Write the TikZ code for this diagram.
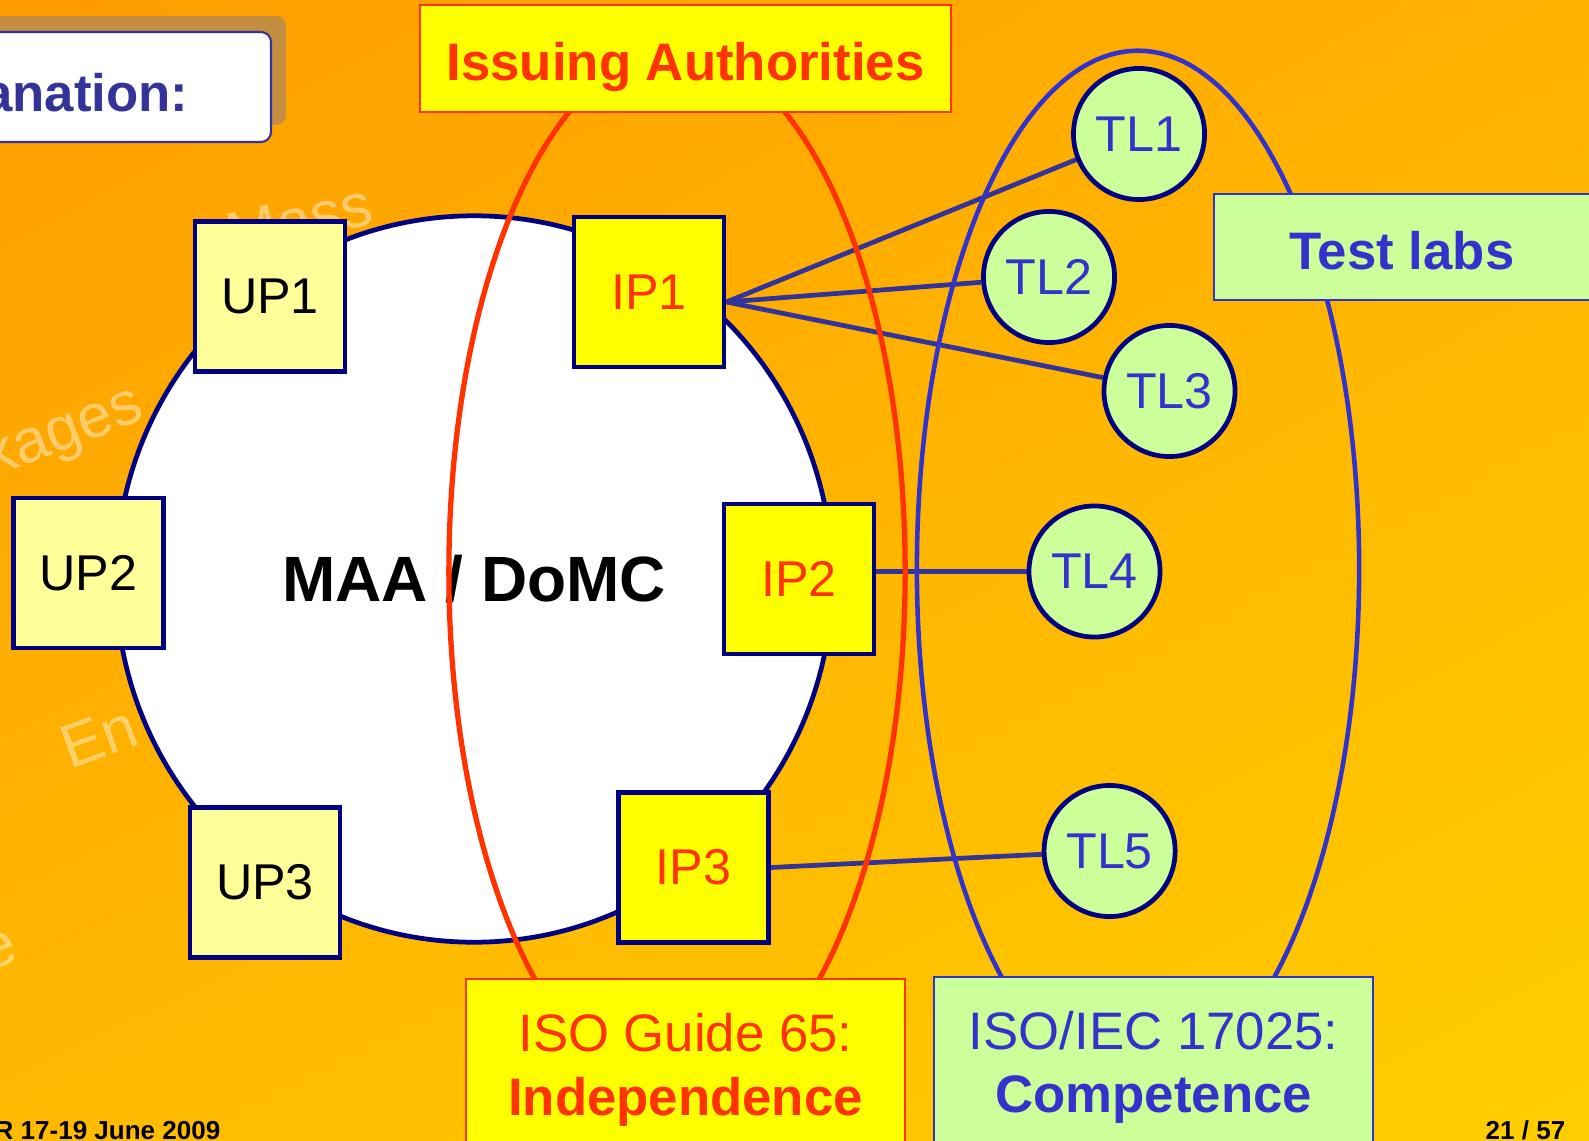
\documentclass[tikz,border=0pt]{standalone}
\usepackage{fontspec}
\setmainfont{Liberation Sans}
\usetikzlibrary{shadings,shapes.geometric}
\definecolor{navy}{RGB}{0,0,128}
\definecolor{boxblue}{RGB}{51,51,153}
\definecolor{tlblue}{RGB}{51,51,204}
\definecolor{ired}{RGB}{255,51,0}
\definecolor{iyellow}{RGB}{255,255,0}
\definecolor{upyellow}{RGB}{255,255,153}
\definecolor{tlgreen}{RGB}{204,255,153}
\definecolor{shadowtan}{RGB}{196,142,64}
\definecolor{bgUL}{RGB}{255,156,0}
\definecolor{bgUR}{RGB}{255,178,0}
\definecolor{bgLL}{RGB}{255,186,0}
\definecolor{bgLR}{RGB}{255,206,0}
\pgfdeclarelayer{bg}
\pgfdeclarelayer{edges}
\pgfsetlayers{bg,edges,main}
\tikzset{
  upbox/.style={rectangle, draw=navy, line width=1.35pt, fill=upyellow, minimum width=1.5cm, minimum height=1.5cm, inner sep=0pt, font=\fontsize{14.3pt}{16pt}\selectfont, text=black},
  ipbox/.style={upbox, fill=iyellow, text=ired},
  tlnode/.style={circle, draw=navy, line width=1.35pt, fill=tlgreen, minimum size=1.31cm, inner sep=0pt, text=tlblue, font=\fontsize{14.3pt}{16pt}\selectfont},
  link/.style={draw=boxblue, line width=1.35pt},
  labelbox/.style={rectangle, line width=0.6pt, inner sep=0pt},
  normtext/.style={inner sep=0pt, font=\fontsize{15pt}{18pt}\selectfont},
  boldtext/.style={inner sep=0pt, font=\fontsize{15pt}{18pt}\selectfont\bfseries},
  watermark/.style={text=white, text opacity=0.42, font=\fontsize{17.5pt}{20pt}\selectfont, inner sep=0pt},
  footer/.style={inner sep=0pt, font=\fontsize{7.4pt}{9pt}\selectfont\bfseries, text=black},
}
\begin{document}
\begin{tikzpicture}[x=0.01cm, y=-0.01cm]
\useasboundingbox (0,0) rectangle (1589,1140);
\begin{pgfonlayer}{bg}
\shade[upper left=bgUL, upper right=bgUR, lower left=bgLL, lower right=bgLR] (0,0) rectangle (1589,1140);
\node[watermark, anchor=base west, rotate=13] (wm1) at (232,257) {Mass};
\node[watermark, anchor=base west, rotate=21] (wm2) at (-8,478) {kages};
\node[watermark, anchor=base west, rotate=20] (wm3) at (70,770) {En};
\node[watermark, anchor=base west, rotate=20] (wm4) at (-12,972) {e};
\end{pgfonlayer}

% explanation box
\fill[shadowtan, rounded corners=1mm] (-30,16) rectangle (286,125);
\draw[boxblue, line width=0.6pt, fill=white, rounded corners=1mm] (-30,32) rectangle (271,142);
\node[anchor=base east, boldtext, text=boxblue] (expl) at (189,112) {Explanation:};

% main circle
\node[ellipse, draw=navy, line width=1.35pt, fill=white, minimum width=7.16cm, minimum height=7.26cm, inner sep=0pt,
      font=\fontsize{18.2pt}{20pt}\selectfont\bfseries, text=black] (maa) at (474,579) {MAA / DoMC};

% ellipses
\draw[ired, line width=1.5pt] (677,571.5) ellipse [x radius=2.28cm, y radius=5.21cm];
\draw[tlblue, line width=1.3pt] (1138,569) ellipse [x radius=2.21cm, y radius=5.18cm];

% parties
\node[upbox] (UP1) at (270,296.5) {UP1};
\node[upbox] (UP2) at (88.5,573) {UP2};
\node[upbox] (UP3) at (265,882.5) {UP3};
\node[ipbox] (IP1) at (649,292) {IP1};
\node[ipbox] (IP2) at (799,579) {IP2};
\node[ipbox] (IP3) at (693.5,867.5) {IP3};

% test labs
\node[tlnode] (TL1) at (1139,134) {TL1};
\node[tlnode] (TL2) at (1049,277) {TL2};
\node[tlnode] (TL3) at (1169.5,391) {TL3};
\node[tlnode] (TL4) at (1094.5,571.5) {TL4};
\node[tlnode] (TL5) at (1109.6,851) {TL5};

\begin{pgfonlayer}{edges}
\draw[link] ([yshift=-0.1cm]IP1.east) -- (TL1);
\draw[link] ([yshift=-0.1cm]IP1.east) -- (TL2);
\draw[link] ([yshift=-0.1cm]IP1.east) -- (TL3);
\draw[link] (IP2.east |- TL4) -- (TL4);
\draw[link] (IP3.east) -- (TL5);
\end{pgfonlayer}

% label boxes
\node[labelbox, draw=ired, fill=iyellow, minimum width=5.30cm, minimum height=1.065cm] (issuing) at (685.5,58.3) {};
\node[boldtext, anchor=base, text=ired] (issuingt) at (685.5,81) {Issuing Authorities};
\node[labelbox, draw=tlblue, fill=tlgreen, minimum width=3.76cm, minimum height=1.06cm] (testlabs) at (1402,247) {};
\node[boldtext, anchor=base, text=tlblue] (testlabst) at (1402,269.5) {Test labs};
\node[labelbox, draw=ired, fill=iyellow, minimum width=4.39cm, minimum height=2cm, anchor=north] (iso65) at (685.5,978) {};
\node[labelbox, draw=tlblue, fill=tlgreen, minimum width=4.39cm, minimum height=2cm, anchor=north] (isoiec) at (1153.7,976) {};
\node[normtext, anchor=base, text=ired] (iso65a) at (685.5,1051) {ISO Guide 65:};
\node[boldtext, anchor=base, text=ired] (iso65b) at (685.5,1115) {Independence};
\node[normtext, anchor=base, text=tlblue] (isoieca) at (1153.7,1049) {ISO/IEC 17025:};
\node[boldtext, anchor=base, text=tlblue] (isoiecb) at (1153.7,1112) {Competence};

% footer
\node[footer, anchor=base west] (date) at (-6,1139) {R 17-19 June 2009};
\node[footer, anchor=base east] (page) at (1566,1139) {21 / 57};
\end{tikzpicture}
\end{document}
